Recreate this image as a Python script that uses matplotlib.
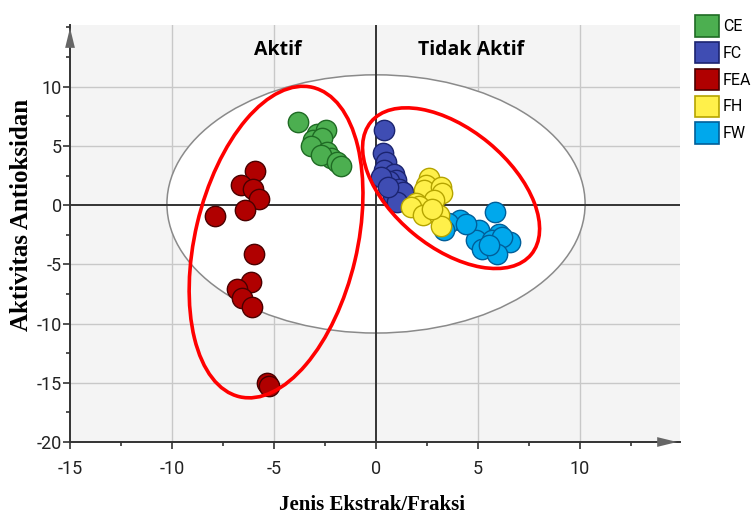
import matplotlib.pyplot as plt
from matplotlib.patches import Ellipse, Patch
from matplotlib.transforms import Affine2D
from matplotlib.ticker import MultipleLocator

plt.rcParams['axes.unicode_minus'] = False

# score plot data per extract / fraction
ce_x = [-3.8, -2.9, -2.45, -3.1, -2.65, -3.2, -2.4, -2.2, -2.7, -1.9, -1.7]
ce_y = [7.0, 6.0, 6.3, 5.5, 5.7, 5.0, 4.5, 4.0, 4.2, 3.6, 3.3]

fc_x = [0.4, 0.33, 0.5, 0.4, 0.9, 0.98, 0.65, 0.25, 1.14, 0.82, 1.14, 1.3, 1.05, 0.6]
fc_y = [6.3, 4.4, 3.65, 2.95, 2.65, 2.1, 2.0, 2.4, 1.4, 0.85, 0.55, 1.1, 0.25, 1.5]

fea_x = [-5.95, -6.6, -6.05, -5.75, -6.4, -7.9, -6.0, -6.15, -6.8, -6.55, -6.1, -5.35, -5.25]
fea_y = [2.9, 1.7, 1.35, 0.5, -0.4, -0.9, -4.1, -6.45, -7.05, -7.85, -8.6, -15.0, -15.3]

fh_x = [2.6, 2.45, 2.35, 3.2, 3.25, 2.85, 1.95, 2.1, 1.7, 2.3, 3.1, 3.2, 2.75]
fh_y = [2.25, 1.7, 1.3, 1.5, 1.0, 0.4, 0.15, -0.1, -0.15, -0.85, -0.85, -1.8, -0.3]

fw_x = [5.85, 4.1, 3.55, 3.35, 5.05, 6.05, 4.9, 5.7, 6.55, 6.2, 5.2, 5.95, 5.55, 4.4]
fw_y = [-0.55, -1.25, -1.55, -2.1, -2.1, -2.4, -2.95, -2.95, -3.1, -2.7, -3.7, -4.1, -3.4, -1.6]

groups = ['CE', 'FC', 'FEA', 'FH', 'FW']
face = {'CE': '#4caf50', 'FC': '#3f4db3', 'FEA': '#b00000', 'FH': '#fff04a', 'FW': '#00a8ec'}
edge = {'CE': '#1f6b24', 'FC': '#1b2470', 'FEA': '#4a0000', 'FH': '#b5a400', 'FW': '#005f9a'}

TICK_FONT = ['Liberation Sans Narrow', 'Roboto', 'DejaVu Sans']

fig = plt.figure(figsize=(7.53, 5.16), dpi=100)
ax = fig.add_axes([0.093, 0.1434, 0.810, 0.808])
ax.set_xlim(-15, 14.9)
ax.set_ylim(-20, 15.2)
ax.set_facecolor('#f4f4f4')

# grid and zero lines
for v in [-10, -5, 5, 10]:
    ax.axvline(v, color='#c8c8c8', lw=1, zorder=0)
for v in [-15, -10, -5, 5, 10]:
    ax.axhline(v, color='#c8c8c8', lw=1, zorder=0)

# Hotelling ellipse
ax.add_patch(Ellipse((0, 0.1), 20.5, 21.8, facecolor='white', edgecolor='#8a8a8a',
                     lw=1.1, zorder=1))
ax.axvline(0, color='#333333', lw=1.4, zorder=2)
ax.axhline(0, color='#333333', lw=1.4, zorder=2)

# points
order = [('CE', ce_x, ce_y), ('FC', fc_x, fc_y), ('FEA', fea_x, fea_y),
         ('FW', fw_x, fw_y), ('FH', fh_x, fh_y)]
for name, xs, ys in order:
    ax.scatter(xs, ys, s=215, c=face[name], edgecolors=edge[name], linewidths=1.0, zorder=3)

# red grouping ellipses, sized in screen units
SX, SY = 20.4, 11.85
scr = Affine2D().scale(1 / SX, 1 / SY) + ax.transData
ax.add_patch(Ellipse((-4.9 * SX, -3.12 * SY), 318, 162, angle=76.7, fill=False,
                     edgecolor='#ff0000', lw=2.6, transform=scr, zorder=4))
ax.add_patch(Ellipse((3.68 * SX, 1.43 * SY), 208, 118, angle=-39.6, fill=False,
                     edgecolor='#ff0000', lw=2.6, transform=scr, zorder=4))

ax.text(-4.8, 13.1, 'Aktif', fontsize=14, fontweight='bold', family='Open Sans',
        ha='center', va='center', zorder=5)
ax.text(4.65, 13.1, 'Tidak Aktif', fontsize=14, fontweight='bold', family='Open Sans',
        ha='center', va='center', zorder=5)

# axes styling
for s in ['top', 'right']:
    ax.spines[s].set_visible(False)
for s in ['left', 'bottom']:
    ax.spines[s].set_color('#333333')
    ax.spines[s].set_linewidth(1.4)
ax.xaxis.set_minor_locator(MultipleLocator(2.5))
ax.yaxis.set_minor_locator(MultipleLocator(2.5))
ax.set_xticks([-15, -10, -5, 0, 5, 10])
ax.set_yticks([-20, -15, -10, -5, 0, 5, 10])
ax.tick_params(which='both', direction='out', color='#333333', width=1.2)
ax.tick_params(which='major', length=5, labelsize=13, labelcolor='#222222')
ax.tick_params(axis='y', which='major', pad=1)
ax.tick_params(axis='x', which='major', pad=8)
ax.tick_params(which='minor', length=3)
for lab in ax.get_xticklabels() + ax.get_yticklabels():
    lab.set_family(TICK_FONT)

# arrows at the end of the axes
head = '-|>,head_length=0.9,head_width=0.22'
ax.annotate('', xy=(0, 1.0), xytext=(0, 0.95), xycoords='axes fraction',
            arrowprops=dict(arrowstyle=head, color='#666666', lw=0, mutation_scale=16),
            annotation_clip=False)
ax.annotate('', xy=(1.0, 0), xytext=(0.95, 0), xycoords='axes fraction',
            arrowprops=dict(arrowstyle=head, color='#666666', lw=0, mutation_scale=16),
            annotation_clip=False)

fig.text(372 / 753, 1 - 505 / 516, 'Jenis Ekstrak/Fraksi', family='Liberation Serif',
         fontweight='bold', fontsize=15, ha='center', va='center')
fig.text(22 / 753, 1 - 215 / 516, 'Aktivitas Antioksidan', family='Liberation Serif',
         fontweight='bold', fontsize=18, ha='center', va='center', rotation=90)

handles = [Patch(facecolor=face[g], edgecolor=edge[g], lw=1.2, label=g) for g in groups]
fig.legend(handles=handles, loc='upper left', bbox_to_anchor=(695 / 753, 1 - 15 / 516),
           frameon=False, handlelength=1.5, handleheight=1.7, borderpad=0,
           borderaxespad=0, labelspacing=0.33, handletextpad=0.26,
           prop={'family': TICK_FONT, 'size': 11.5})

fig.savefig('out.png', dpi=100)
